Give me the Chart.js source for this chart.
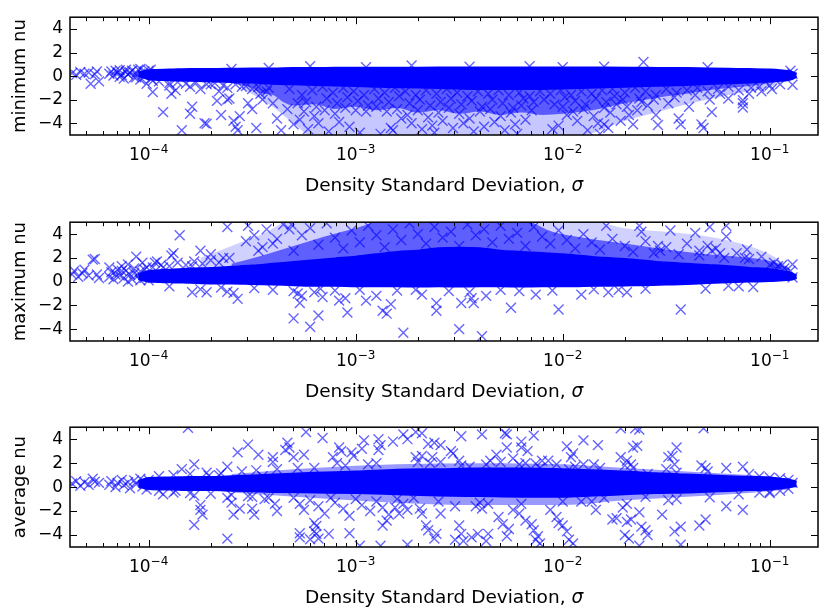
<!DOCTYPE html>
<html><head><meta charset="utf-8">
<script src="https://cdn.jsdelivr.net/npm/chart.js@4"></script>
<style>
html,body{margin:0;padding:0;background:#fff;}
body{width:819px;height:614px;position:relative;overflow:hidden;}
canvas.p{position:absolute;left:0;}
</style></head><body>
<canvas id="c1" class="p" width="819" height="205" style="top:0px"></canvas>
<canvas id="c2" class="p" width="819" height="205" style="top:205px"></canvas>
<canvas id="c3" class="p" width="819" height="204" style="top:410px"></canvas>
<script>
// ---- axes ----
const xMin = 4.17e-5, xMax = 0.171;
const yTicks = [-4, -2, 0, 2, 4];
const xMajorExp = [-4, -3, -2, -1];
const yTitles = ['minimum nu', 'maximum nu', 'average nu'];
const xTitleText = 'Density Standard Deviation, ';
const xTitleSym = 'σ';

// ===== minimum nu =====  (x stored as log10 sigma)
// saturated core of the cloud
const minCoreL  = [-4.05,-4.0,-3.9,-3.8,-3.7,-3.6,-3.5,-3.4,-3.3,-3.2,-3.1,-3.0,-2.8,-2.6,-2.4,-2.2,-2.0,-1.8,-1.6,-1.4,-1.2,-1.1,-1.0,-0.95,-0.9,-0.87];
const minCoreHi = [0.3,0.5,0.55,0.6,0.6,0.62,0.65,0.65,0.68,0.68,0.7,0.7,0.7,0.72,0.72,0.72,0.72,0.72,0.7,0.68,0.62,0.6,0.55,0.5,0.4,0.2];
const minCoreLo = [0.0,-0.25,-0.35,-0.4,-0.45,-0.5,-0.55,-0.65,-0.7,-0.75,-0.8,-0.85,-0.95,-1.0,-1.1,-1.1,-1.05,-0.95,-0.85,-0.75,-0.6,-0.55,-0.45,-0.4,-0.3,-0.05];
// dense crosshatched region under the core
const minDenseL  = [-3.6,-3.5,-3.45,-3.4,-3.35,-3.3,-3.2,-3.1,-3.0,-2.9,-2.8,-2.7,-2.6,-2.5,-2.4,-2.3,-2.2,-2.1,-2.0,-1.9,-1.8,-1.7,-1.6,-1.5,-1.4,-1.3,-1.2,-1.1,-1.0,-0.9];
const minDenseHi = [0,0,0,0,0,0,0,0,0,0,0,0,0,0,0,0,0,0,0,0,0,0,0,0,0,0,0,0,0,0];
const minDenseLo = [-0.6,-1.0,-1.5,-1.6,-2.2,-2.5,-2.4,-2.8,-2.6,-2.9,-2.7,-3.1,-2.9,-3.2,-3.0,-3.3,-3.1,-3.3,-3.2,-3.0,-2.7,-2.3,-2.0,-1.7,-1.5,-1.2,-1.0,-0.85,-0.6,-0.3];
// sparser region further out
const minSparseL  = [-3.55,-3.4,-3.3,-3.2,-3.0,-2.8,-2.5,-2.2,-2.0,-1.85,-1.7,-1.55,-1.4,-1.2,-1.0,-0.9];
const minSparseHi = [0,0,0,0,0,0,0,0,0,0,0,0,0,0,0,0];
const minSparseLo = [-1.0,-2.6,-4.0,-5.2,-5.2,-5.2,-5.2,-5.2,-5.2,-4.8,-3.8,-3.1,-2.4,-1.6,-0.9,-0.3];
// individual markers [log10 sigma, nu]
const minNuPoints = [
[-4.37,0.25],[-4.35,0.1],[-4.33,0.35],[-4.31,0.2],[-4.29,0.3],[-4.28,-0.65],[-4.26,0.15],[-4.25,0.4],[-4.24,-0.45],
[-4.19,0.2],[-4.18,0.4],[-4.17,0.05],[-4.15,0.3],[-4.14,0.5],[-4.13,0.1],[-4.12,-0.2],[-4.11,0.35],[-4.1,0.15],[-4.08,0.45],[-4.07,-0.1],[-4.06,0.25],[-4.05,0.55],[-4.04,-0.3],[-4.03,0.1],[-4.02,0.4],[-4.01,-0.65],[-4.0,0.2],[-3.99,0.55],[-3.98,-0.4],
[-4.16,0.45],[-4.14,-0.05],[-4.11,0.55],[-4.09,0.3],[-4.06,-0.1],[-4.04,0.6],[-4.02,0.0],[-4.0,0.45],[-3.99,-0.2],
[-3.95,-0.45],[-3.9,-0.6],[-3.86,-0.5],[-3.82,-0.65],[-3.77,-0.55],[-3.72,-0.7],[-3.68,-0.6],[-3.64,-0.8],[-3.58,-0.7],[-3.53,-0.85],[-3.47,-0.9],[-3.42,-1.0],
[-3.98,-1.36],[-3.93,-3.06],[-3.89,-1.5],[-3.87,-1.2],[-3.84,-4.6],[-3.8,-3.2],[-3.79,-2.6],[-3.73,-4.0],[-3.72,-4.05],[-3.67,-2.1],[-3.65,-3.3],[-3.62,-2.0],[-3.61,-1.9],[-3.59,-3.8],[-3.58,-4.3],[-3.57,-4.6],[-3.56,-3.4],[-3.52,-2.3],[-3.5,-2.8],[-3.48,-4.4],[-3.46,-1.5],[-3.45,-2.0],[-3.43,-1.3],[-3.4,-2.3],[-3.38,-3.6],[-3.36,-4.6],[-3.33,-2.8],[-3.32,-1.1],[-3.3,-4.1],[-3.28,-2.3],
[-3.9,-0.8],[-3.8,-0.9],[-3.7,-0.7],[-3.62,-1.0],[-3.55,-0.9],[-3.5,-1.1],[-3.66,-1.3],[-3.75,-1.1],
[-3.26,-1.6],[-3.24,-2.2],[-3.25,-3.0],[-3.27,-3.7],[-3.23,-4.5],[-3.21,-1.2],[-3.19,-2.6],[-3.2,-3.4],[-3.18,-4.0],
[-3.16,-0.9],[-3.14,-1.9],[-3.15,-2.9],[-3.13,-4.7],[-3.11,-1.4],[-3.09,-2.3],[-3.1,-3.2],[-3.08,-3.9],
[-3.06,-1.0],[-3.04,-1.8],[-3.05,-2.7],[-3.03,-4.3],[-3.01,-1.3],[-2.99,-2.1],[-3.0,-2.9],[-2.98,-4.8],
[-2.96,-1.6],[-2.94,-2.5],[-2.95,-3.0],[-2.91,-1.1],[-2.89,-1.9],[-2.9,-2.6],[-2.88,-4.9],
[-2.86,-1.4],[-2.84,-2.2],[-2.85,-3.0],[-2.83,-4.4],[-2.81,-1.0],[-2.79,-1.7],[-2.8,-2.8],[-2.78,-3.6],[-2.82,-4.6],
[-2.76,-1.3],[-2.74,-2.3],[-2.75,-3.3],[-2.73,-4.0],[-2.71,-1.6],[-2.69,-2.0],[-2.7,-2.9],[-2.68,-4.5],
[-2.66,-1.2],[-2.64,-2.5],[-2.65,-3.5],[-2.63,-4.2],[-2.61,-1.5],[-2.59,-2.2],[-2.6,-3.1],[-2.58,-3.8],[-2.62,-4.8],
[-2.56,-1.1],[-2.54,-1.9],[-2.55,-2.7],[-2.53,-4.4],[-2.51,-1.4],[-2.49,-2.4],[-2.5,-3.2],[-2.48,-4.0],
[-2.46,-1.7],[-2.44,-2.1],[-2.45,-3.6],[-2.43,-4.7],[-2.41,-1.3],[-2.39,-2.6],[-2.4,-3.0],[-2.38,-4.3],
[-2.36,-1.5],[-2.34,-2.0],[-2.35,-2.8],[-2.33,-3.9],[-2.31,-1.2],[-2.29,-2.3],[-2.3,-3.4],[-2.28,-4.6],
[-2.26,-1.6],[-2.24,-2.7],[-2.25,-3.1],[-2.23,-4.1],[-2.21,-1.4],[-2.19,-1.9],[-2.2,-2.5],[-2.18,-3.7],[-2.22,-4.9],
[-2.16,-1.7],[-2.14,-2.2],[-2.15,-2.9],[-2.11,-1.3],[-2.09,-2.0],[-2.06,-1.5],[-2.04,-2.4],[-2.05,-4.5],
[-2.01,-1.2],[-1.99,-1.8],[-2.0,-2.6],[-1.98,-3.3],[-2.02,-4.2],[-1.96,-1.6],[-1.94,-2.1],[-1.95,-3.0],[-1.93,-3.8],
[-1.91,-1.3],[-1.89,-2.4],[-1.9,-2.8],[-1.88,-4.6],[-1.86,-1.5],[-1.84,-1.9],[-1.85,-3.4],[-1.83,-4.0],
[-1.81,-1.2],[-1.79,-2.2],[-1.8,-2.7],[-1.78,-4.4],[-1.82,-4.9],
[-1.76,-1.1],[-1.75,-1.7],[-1.74,-2.4],[-1.77,-3.1],[-1.8,-4.1],[-1.71,-2.0],[-1.72,-3.8],[-1.7,-1.4],[-1.69,-2.6],[-1.68,-3.3],[-1.66,-4.1],[-1.64,-2.9],[-1.65,-1.0],[-1.63,-1.9],[-1.62,-2.2],[-1.6,-1.3],[-1.59,-2.5],
[-1.55,-1.6],[-1.56,-2.0],[-1.55,-3.3],[-1.54,-4.15],[-1.5,-1.1],[-1.49,-2.3],[-1.45,-1.4],[-1.46,-1.8],[-1.44,-3.6],[-1.43,-4.1],[-1.4,-1.2],[-1.39,-2.6],
[-1.35,-1.0],[-1.36,-1.6],[-1.33,-4.1],[-1.32,-4.4],[-1.3,-1.3],[-1.29,-2.0],[-1.28,-3.06],[-1.25,-1.1],[-1.24,-1.5],[-1.2,-0.9],[-1.2,-1.9],
[-1.15,-1.2],[-1.13,-2.05],[-1.13,-2.3],[-1.13,-2.67],[-1.1,-1.5],[-1.09,-1.0],[-1.05,-0.9],[-1.04,-1.3],[-1.0,-0.8],[-0.99,-1.1],[-0.95,-0.7],[-0.89,-0.74],[-0.89,0.2],[-0.9,0.45],[-0.92,0.1],
[-3.22,0.85],[-2.73,0.9],[-2.45,0.8],[-2.16,0.85],[-1.61,1.2],[-1.3,0.75],[-3.6,0.6],[-2.0,0.75],[-1.8,0.8],[-3.42,0.7],[-2.95,0.75]
];

// ===== maximum nu =====
const maxCoreL  = [-4.05,-4.0,-3.9,-3.8,-3.7,-3.6,-3.5,-3.4,-3.3,-3.2,-3.1,-3.0,-2.9,-2.8,-2.7,-2.6,-2.5,-2.4,-2.3,-2.2,-2.1,-2.0,-1.9,-1.8,-1.7,-1.6,-1.5,-1.4,-1.3,-1.2,-1.1,-1.0,-0.95,-0.9,-0.87];
const maxCoreHi = [0.6,0.9,1.0,1.1,1.15,1.25,1.35,1.5,1.65,1.8,1.95,2.1,2.3,2.5,2.6,2.8,2.85,2.8,2.6,2.5,2.4,2.3,2.15,2.0,1.9,1.75,1.6,1.5,1.4,1.3,1.15,1.05,0.9,0.75,0.5];
const maxCoreLo = [0.2,0.0,-0.05,-0.1,-0.15,-0.15,-0.2,-0.25,-0.3,-0.35,-0.35,-0.4,-0.4,-0.4,-0.42,-0.4,-0.42,-0.4,-0.4,-0.42,-0.4,-0.4,-0.38,-0.35,-0.32,-0.3,-0.25,-0.2,-0.12,-0.05,0.0,0.05,0.1,0.15,0.3];
const maxDenseL  = [-3.6,-3.45,-3.3,-3.15,-3.0,-2.85,-2.6,-2.3,-2.2,-2.05,-1.9,-1.7,-1.5,-1.3,-1.1,-0.97,-0.9];
const maxDenseHi = [1.5,2.2,3.0,3.8,4.5,5.2,5.2,5.2,5.2,4.2,3.7,3.2,2.7,2.3,2.0,1.6,1.0];
const maxDenseLo = [0.5,0.5,0.5,0.5,0.5,0.5,0.5,0.5,0.5,0.5,0.5,0.5,0.5,0.5,0.5,0.5,0.5];
const maxSparseL  = [-3.75,-3.6,-3.45,-3.3,-2.5,-1.9,-1.7,-1.5,-1.3,-1.1,-0.97,-0.9];
const maxSparseHi = [2.0,3.0,4.0,5.2,5.2,5.2,4.5,4.2,3.8,3.0,2.0,1.0];
const maxSparseLo = [0.5,0.5,0.5,0.5,0.5,0.5,0.5,0.5,0.5,0.5,0.5,0.5];
const maxNuPoints = [
[-4.37,0.6],[-4.36,0.9],[-4.34,0.4],[-4.32,0.7],[-4.31,1.0],[-4.29,0.5],[-4.27,1.85],[-4.26,1.9],[-4.25,0.6],[-4.24,0.3],
[-4.19,0.4],[-4.19,1.2],[-4.18,0.8],[-4.17,0.2],[-4.15,1.0],[-4.14,0.5],[-4.13,1.3],[-4.12,0.3],[-4.11,0.9],[-4.1,1.45],[-4.09,0.6],[-4.08,0.2],[-4.07,1.1],[-4.06,2.1],[-4.05,0.5],[-4.04,0.85],[-4.03,1.6],[-4.02,0.3],[-4.01,1.2],[-4.0,0.1],
[-4.16,0.6],[-4.13,0.9],[-4.1,0.0],[-4.07,0.7],[-4.04,0.1],[-4.02,1.0],
[-3.97,1.6],[-3.96,1.7],[-3.93,1.2],[-3.89,2.2],[-3.88,2.4],
[-3.98,1.2],[-3.94,1.4],[-3.9,1.3],[-3.86,1.6],[-3.82,1.4],[-3.78,1.7],[-3.74,1.5],[-3.7,1.8],[-3.66,1.6],[-3.64,2.0],
[-1.0,1.4],[-0.96,1.3],[-0.93,1.1],[-0.9,0.9],
[-3.85,3.9],[-3.79,1.3],[-3.75,2.6],[-3.7,2.3],[-3.62,4.6],[-3.61,2.0],[-3.79,-0.9],[-3.75,-0.65],[-3.72,-0.9],[-3.62,-0.85],[-3.59,-0.95],[-3.57,-1.45],[-3.49,-0.55],
[-3.53,3.4],[-3.49,3.9],[-3.52,4.7],[-3.47,2.6],[-3.43,4.4],[-3.4,3.2],[-3.32,4.4],[-3.31,4.8],
[-3.3,-3.1],[-3.27,-1.8],[-3.22,-3.8],[-3.18,-2.85],[-3.3,-0.8],[-3.28,-1.0],[-3.26,-1.2],[-3.2,-0.9],[-3.17,-0.6],[-3.16,-1.3],[-3.08,-1.6],[-3.05,-1.4],[-3.04,-2.6],[-2.98,-0.7],[-2.95,-1.6],[-2.9,-1.2],[-2.87,-2.45],[-2.85,-2.7],[-2.83,-1.9],[-2.77,-4.3],
[-2.71,-0.7],[-2.68,-1.1],[-2.61,-1.8],[-2.61,-2.45],[-2.5,-4.0],[-2.49,-1.8],[-2.45,-0.9],[-2.44,-1.4],[-2.43,-1.8],[-2.39,-4.6],[-2.37,-1.2],[-2.25,-2.2],[-2.21,-0.8],[-2.13,-1.1],[-2.02,-2.35],[-1.91,-1.1],[-1.78,-0.9],[-1.73,-0.7],[-1.69,-0.9],[-1.43,-2.35],[-1.31,-0.6],[-1.15,-0.4],[-1.08,-0.45],
[-3.9,-0.4],[-3.65,-0.5],[-3.4,-0.7],[-3.1,-0.75],[-2.8,-0.75],[-2.55,-0.8],[-2.3,-0.7],[-2.05,-0.75],[-1.85,-0.65],[-1.6,-0.6],[-1.2,-0.35],
[-1.79,4.7],[-1.63,4.7],[-1.62,4.2],[-1.54,3.0],[-1.53,2.6],[-1.48,4.3],[-1.36,4.1],[-1.29,4.6],[-1.21,4.7],[-1.21,3.8],[-1.34,2.6],[-1.3,3.0],[-1.26,2.8],[-1.24,2.4],[-1.11,2.7],[-1.12,2.0],[-0.89,1.45],[-0.89,0.35],[-0.97,1.1],
[-3.45,2.9],[-3.38,3.6],[-3.35,4.8],[-3.3,2.6],[-3.26,3.9],[-3.22,4.5],[-3.18,3.1],[-3.14,4.9],[-3.1,3.7],[-3.06,2.8],[-3.02,4.3],[-2.98,3.3],[-2.94,4.7],[-2.9,3.9],[-2.86,2.9],[-2.82,4.4],[-2.78,3.5],[-2.74,4.9],[-2.7,4.0],[-2.66,3.2],[-2.62,4.6],[-2.58,3.7],[-2.54,4.2],[-2.5,3.0],[-2.46,4.8],[-2.42,3.9],[-2.38,4.4],[-2.34,3.3],[-2.3,4.7],[-2.26,3.6],[-2.22,4.1],[-2.18,3.0],[-2.14,4.6],[-2.1,3.8],[-2.06,3.2],[-2.02,4.3],[-1.98,3.5],[-1.94,2.8],[-1.9,4.0],[-1.86,3.3],[-1.82,2.7],[-1.76,3.6],[-1.7,3.0],[-1.66,2.5],[-1.6,3.4],[-1.56,2.4],[-1.5,2.9],[-1.44,2.3],[-1.4,3.2],[-1.34,2.2],[-1.28,2.6],[-1.22,2.0],[-1.16,2.4],[-1.1,1.9],[-1.04,2.1],[-0.98,1.6],[-0.94,1.4]
];

// ===== average nu =====
const avgCoreL  = [-4.05,-4.0,-3.9,-3.8,-3.7,-3.6,-3.4,-3.2,-3.0,-2.8,-2.6,-2.4,-2.2,-2.0,-1.85,-1.7,-1.55,-1.4,-1.25,-1.1,-1.0,-0.95,-0.9,-0.87];
const avgCoreHi = [0.5,0.75,0.8,0.85,0.85,0.9,1.05,1.2,1.3,1.45,1.5,1.55,1.55,1.5,1.4,1.3,1.15,1.05,0.95,0.85,0.8,0.7,0.6,0.45];
const avgCoreLo = [0.05,-0.15,-0.2,-0.25,-0.25,-0.3,-0.4,-0.45,-0.5,-0.6,-0.7,-0.75,-0.8,-0.8,-0.7,-0.6,-0.5,-0.45,-0.35,-0.25,-0.2,-0.1,0.0,0.1];
const avgDenseL  = [-3.6,-3.2,-2.8,-2.4,-2.0,-1.7,-1.4,-1.1,-0.9];
const avgDenseHi = [1.1,1.6,1.9,2.0,1.9,1.6,1.3,1.0,0.7];
const avgDenseLo = [-0.45,-0.9,-1.3,-1.5,-1.5,-1.1,-0.8,-0.5,-0.2];
const avgNuPoints = [
[-4.37,0.3],[-4.35,0.5],[-4.33,0.1],[-4.31,0.4],[-4.29,0.2],[-4.27,0.7],[-4.26,0.45],[-4.24,0.35],
[-4.19,0.2],[-4.18,0.5],[-4.16,0.0],[-4.15,0.35],[-4.13,0.6],[-4.12,0.15],[-4.1,0.4],[-4.09,-0.1],[-4.07,0.55],[-4.06,0.25],[-4.04,0.7],[-4.03,0.05],[-4.02,0.4],[-4.01,-0.2],[-4.0,0.6],
[-3.95,0.9],[-3.88,1.0],[-3.8,1.1],[-3.72,1.2],[-3.65,1.15],[-3.55,1.3],[-3.48,1.4],[-3.38,1.5],[-3.28,1.6],
[-3.95,-0.3],[-3.88,-0.45],[-3.8,-0.5],[-3.7,-0.55],[-3.6,-0.65],[-3.5,-0.8],[-3.42,-0.9],
[-1.05,0.9],[-1.0,0.8],[-0.95,0.75],[-0.91,0.6],[-1.05,-0.45],[-1.0,-0.4],[-0.95,-0.3],[-0.91,-0.15],
[-3.93,-0.6],[-3.87,-0.3],[-3.84,1.5],[-3.81,4.95],[-3.78,1.9],[-3.78,-0.7],[-3.75,-1.5],[-3.74,-2.3],[-3.75,-1.9],[-3.78,-3.15],[-3.71,0.95],[-3.66,1.0],[-3.62,1.7],[-3.62,-0.9],[-3.6,-1.3],[-3.62,-4.3],[-3.59,-2.3],[-3.56,-1.8],[-3.57,2.9],[-3.52,3.55],[-3.52,-0.75],[-3.5,-1.8],[-3.49,-2.3],[-3.47,2.7],[-3.45,0.9],[-3.4,2.5],[-3.4,2.1],[-3.44,-1.0],[-3.39,-1.4],[-3.38,-2.0],
[-3.33,3.7],[-3.34,3.1],[-3.32,3.3],[-3.3,2.5],[-3.27,-3.85],[-3.27,-4.2],[-3.25,2.7],[-3.24,4.6],[-3.22,-4.35],[-3.2,-3.0],[-3.19,-3.25],[-3.2,-3.7],[-3.19,-3.9],[-3.18,-4.3],[-3.16,4.1],[-3.13,-3.9],[-3.11,2.5],[-3.09,2.0],[-3.08,3.3],[-3.07,3.0],[-3.03,-3.85],[-3.02,2.9],[-3.01,2.6],[-2.98,-4.9],[-2.96,3.9],[-2.97,3.2],[-2.94,1.9],[-2.89,4.0],[-2.88,3.5],[-2.89,3.1],[-2.82,3.8],[-2.88,-4.9],[-2.77,4.4],[-2.75,4.0],[-2.75,-4.8],[-2.85,-2.8],[-2.87,-3.2],[-2.81,-1.7],[-2.79,-2.2],
[-3.3,-0.9],[-3.27,-1.4],[-3.25,-1.9],[-3.22,-1.1],[-3.18,-1.6],[-3.15,-2.2],[-3.12,-0.9],[-3.1,-1.3],[-3.06,-1.8],[-3.03,-2.4],[-3.0,-1.0],[-2.97,-1.5],[-2.93,-2.0],[-2.9,-1.2],[-2.87,-1.7],[-2.84,-2.3],[-2.8,-1.0],[-2.77,-1.4],[-2.75,-1.9],[-2.72,-0.9],
[-3.2,1.6],[-3.05,1.8],[-2.9,2.0],[-2.7,2.1],[-2.5,2.2],[-2.3,2.1],[-2.1,2.2],[-1.9,1.9],[-1.7,1.8],[-1.5,1.5],[-1.3,1.3],[-1.1,1.1],
[-2.71,4.6],[-2.68,4.5],[-2.65,3.6],[-2.62,3.7],[-2.59,3.5],[-2.71,2.5],[-2.68,2.6],[-2.63,2.5],[-2.64,2.0],[-2.59,2.1],[-2.53,2.8],[-2.54,3.0],[-2.49,4.25],[-2.49,1.8],[-2.45,1.7],[-2.39,4.4],[-2.37,1.9],[-2.35,2.2],[-2.32,2.7],[-2.28,4.5],[-2.27,4.4],[-2.27,3.3],[-2.24,2.4],[-2.2,3.8],[-2.2,3.3],[-2.17,3.0],[-2.14,4.3],[-2.21,1.9],[-2.18,2.0],[-2.13,1.95],[-2.11,1.6],[-2.07,2.2],[-2.03,1.9],[-1.98,3.4],[-1.96,2.5],[-1.95,2.8],[-1.9,3.9],[-1.83,3.5],[-1.97,1.5],[-1.94,1.7],[-1.85,1.9],[-1.82,1.6],[-1.72,4.9],[-1.72,2.5],[-1.69,2.2],[-1.65,4.9],[-1.63,4.8],[-1.66,3.3],[-1.64,3.45],[-1.67,1.9],[-1.66,1.6],[-1.59,1.1],[-1.49,2.5],[-1.47,2.6],[-1.45,3.3],[-1.46,1.9],[-1.45,1.2],[-1.32,4.9],[-1.33,1.8],[-1.31,1.6],[-1.21,1.6],[-1.13,1.7],[-0.89,0.35],
[-2.69,-1.8],[-2.68,-2.2],[-2.66,-3.2],[-2.65,-3.6],[-2.61,-3.9],[-2.62,-4.3],[-2.59,-2.2],[-2.52,-1.6],[-2.5,-3.2],[-2.49,-3.9],[-2.52,-4.4],[-2.48,-4.5],[-2.44,-4.2],[-2.41,-3.9],[-2.42,-1.6],[-2.39,-1.8],[-2.36,-1.4],[-2.37,-4.5],[-2.36,-3.9],[-2.31,-2.5],[-2.29,-3.1],[-2.27,-4.1],[-2.26,-3.5],[-2.24,-1.9],[-2.21,-2.2],[-2.18,-2.8],[-2.15,-3.1],[-2.14,-3.6],[-2.13,-4.4],[-2.11,-4.7],[-2.12,-4.1],[-2.06,-1.9],[-2.03,-2.5],[-2.02,-3.0],[-2.0,-3.2],[-1.98,-3.7],[-1.97,-4.4],[-1.95,-4.7],[-1.91,-1.2],[-1.86,-1.2],[-1.84,-1.9],[-1.76,-2.7],[-1.74,-2.6],[-1.71,-1.7],[-1.69,-1.4],[-1.69,-2.9],[-1.67,-2.7],[-1.7,-4.0],[-1.68,-4.3],[-1.63,-2.1],[-1.62,-3.3],[-1.59,-4.0],[-1.6,-3.6],[-1.63,-4.9],[-1.52,-2.3],[-1.46,-3.7],[-1.43,-4.8],[-1.43,-3.3],[-1.49,-1.1],[-1.45,-1.0],[-1.34,-3.2],[-1.31,-2.7],[-1.29,-0.85],[-1.21,-1.6],[-1.13,-1.9],[-1.15,-0.6],
[-2.6,-1.2],[-2.4,-1.3],[-2.2,-1.4],[-2.0,-1.2],[-1.8,-0.9],[-1.6,-0.8],[-1.0,-0.5]
];

Chart.defaults.font.family = '"DejaVu Sans", sans-serif';
Chart.defaults.color = '#000';

function toXY(L, V) { return L.map((l, i) => ({ x: Math.pow(10, l), y: V[i] })); }
function ptsXY(P) { return P.map(([l, v]) => ({ x: Math.pow(10, l), y: v })); }

const framePlugin = {
  id: 'frame',
  afterDraw(chart) {
    const { ctx, chartArea: a, scales } = chart;
    const xs = scales.x, ys = scales.y;
    ctx.save();
    ctx.strokeStyle = '#000';
    ctx.lineWidth = 1;
    ctx.beginPath();
    for (let k = -5; k <= -1; k++) {
      for (let m = 1; m <= 9; m++) {
        const v = m * Math.pow(10, k);
        if (v < xMin || v > xMax) continue;
        const px = Math.round(xs.getPixelForValue(v)) + 0.5;
        const len = m === 1 ? 7 : 4;
        ctx.moveTo(px, a.top); ctx.lineTo(px, a.top + len);
        ctx.moveTo(px, a.bottom); ctx.lineTo(px, a.bottom - len);
      }
    }
    yTicks.forEach(v => {
      const py = Math.round(ys.getPixelForValue(v)) + 0.5;
      ctx.moveTo(a.left, py); ctx.lineTo(a.left + 7, py);
      ctx.moveTo(a.right, py); ctx.lineTo(a.right - 7, py);
    });
    ctx.stroke();
    ctx.lineWidth = 1.5;
    ctx.strokeRect(a.left, a.top, a.right - a.left, a.bottom - a.top);

    ctx.fillStyle = '#000';
    ctx.textBaseline = 'alphabetic';
    ctx.textAlign = 'left';
    xMajorExp.forEach(e => {
      const cx = xs.getPixelForValue(Math.pow(10, e));
      const base = '10', sup = (e < 0 ? '\u2212' : '') + Math.abs(e);
      ctx.font = '17px "DejaVu Sans"';
      const wb = ctx.measureText(base).width;
      ctx.font = '12px "DejaVu Sans"';
      const ws = ctx.measureText(sup).width;
      const x0 = cx - (wb + ws) / 2;
      const by = a.bottom + 25;
      ctx.font = '17px "DejaVu Sans"';
      ctx.fillText(base, x0, by);
      ctx.font = '12px "DejaVu Sans"';
      ctx.fillText(sup, x0 + wb, by - 7);
    });
    ctx.font = '18.5px "DejaVu Sans"';
    const w1 = ctx.measureText(xTitleText).width;
    ctx.font = 'oblique 18.5px "DejaVu Sans"';
    const w2 = ctx.measureText(xTitleSym).width;
    const tx = (a.left + a.right) / 2 - (w1 + w2) / 2;
    const ty = a.bottom + 56;
    ctx.font = '18.5px "DejaVu Sans"';
    ctx.fillText(xTitleText, tx, ty);
    ctx.font = 'oblique 18.5px "DejaVu Sans"';
    ctx.fillText(xTitleSym, tx + w1, ty);
    ctx.restore();
  }
};

function makePanel(id, title, pts, bands, padTop, xAxisH) {
  const lineBase = { type: 'line', showLine: true, pointRadius: 0, pointHoverRadius: 0, tension: 0.3, cubicInterpolationMode: 'monotone', clip: 0 };
  const bandSets = [];
  bands.forEach(([L, hi, lo, fillColor, edgeColor, bw]) => {
    bandSets.push(Object.assign({}, lineBase, { data: toXY(L, hi), fill: '+1', backgroundColor: fillColor, borderColor: edgeColor, borderWidth: bw }));
    bandSets.push(Object.assign({}, lineBase, { data: toXY(L, lo), fill: false, borderColor: edgeColor, borderWidth: bw }));
  });
  new Chart(document.getElementById(id), {
    type: 'scatter',
    data: {
      datasets: [
        { data: ptsXY(pts), pointStyle: 'crossRot', pointRadius: 7, pointHoverRadius: 7,
          pointBorderWidth: 1.4, pointBorderColor: 'rgba(0,0,255,0.6)', pointBackgroundColor: 'rgba(0,0,0,0)', clip: 0 },
        ...bandSets
      ]
    },
    options: {
      responsive: false, animation: false, devicePixelRatio: 1, events: [],
      layout: { autoPadding: false, padding: { top: padTop, right: 1, left: 0, bottom: 0 } },
      plugins: { legend: { display: false }, tooltip: { enabled: false } },
      scales: {
        x: { type: 'logarithmic', min: xMin, max: xMax,
             grid: { display: false, drawTicks: false }, border: { display: false },
             ticks: { display: false },
             afterFit(s) { s.height = xAxisH; } },
        y: { type: 'linear', min: -5, max: 5,
             grid: { display: false, drawTicks: false }, border: { display: false },
             afterBuildTicks(s) { s.ticks = yTicks.map(v => ({ value: v })); },
             ticks: { color: '#000', font: { size: 17 }, padding: 7, autoSkip: false,
                      callback: (v) => (v < 0 ? '\u2212' + Math.abs(v) : String(v)) },
             title: { display: true, text: title, color: '#000', font: { size: 18 }, padding: { top: 10, bottom: 0 } },
             afterFit(s) { s.width = 70; } }
      }
    },
    plugins: [framePlugin]
  });
}

const NONE = 'rgba(0,0,0,0)';
makePanel('c1', yTitles[0], minNuPoints, [
  [minCoreL, minCoreHi, minCoreLo, '#0000ff', '#0000ff', 2],
  [minDenseL, minDenseHi, minDenseLo, 'rgba(0,0,255,0.55)', NONE, 1],
  [minSparseL, minSparseHi, minSparseLo, 'rgba(0,0,255,0.22)', NONE, 1]
], 6, 70);
makePanel('c2', yTitles[1], maxNuPoints, [
  [maxCoreL, maxCoreHi, maxCoreLo, '#0000ff', '#0000ff', 2],
  [maxDenseL, maxDenseHi, maxDenseLo, 'rgba(0,0,255,0.55)', NONE, 1],
  [maxSparseL, maxSparseHi, maxSparseLo, 'rgba(0,0,255,0.18)', NONE, 1]
], 8, 69);
makePanel('c3', yTitles[2], avgNuPoints, [
  [avgCoreL, avgCoreHi, avgCoreLo, '#0000ff', '#0000ff', 2],
  [avgDenseL, avgDenseHi, avgDenseLo, 'rgba(0,0,255,0.4)', NONE, 1]
], 8, 67);
</script>
</body></html>
